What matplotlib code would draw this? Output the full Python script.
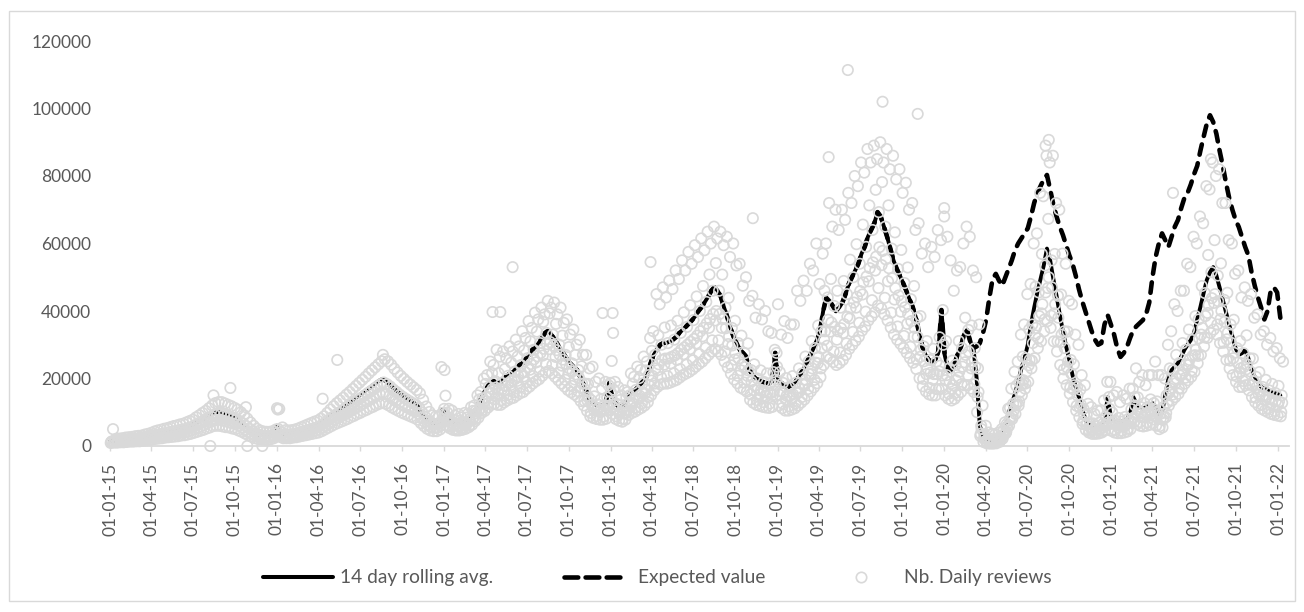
import matplotlib
matplotlib.use("Agg")
import matplotlib.pyplot as plt
from matplotlib.lines import Line2D
from matplotlib.patches import Rectangle
import pandas as pd

plt.rcParams['font.family'] = ['Lato', 'DejaVu Sans']

# ---------------- data (values in thousands of reviews) ----------------
start_date = "2015-01-01"          # weekly samples, 7 days apart

rolling_k = [
    # 2015
    1.5,1.6,1.7,1.8,1.9,2.0,2.1,2.2,2.3,2.4,2.6,2.8,3.0,3.3,3.5,3.7,3.9,4.1,4.3,4.5,4.7,4.9,5.1,5.4,5.7,6.0,
    6.5,7.0,7.5,8.0,8.6,9.2,9.8,10.0,10.0,9.7,9.4,9.1,8.7,8.3,7.7,7.0,6.2,5.4,4.6,3.9,3.5,3.3,3.2,3.2,3.4,3.8,
    # 2016
    6.0,4.2,3.6,3.5,3.6,3.8,4.0,4.3,4.6,4.9,5.2,5.5,5.8,6.2,6.8,7.5,8.3,9.1,9.8,10.4,11.0,11.7,12.3,13.0,13.7,14.4,
    15.1,15.8,16.5,17.2,17.9,18.6,19.3,19.8,19.3,18.5,17.6,16.8,16.0,15.3,14.6,14.0,13.4,12.8,12.0,10.5,9.0,7.8,7.0,6.8,6.7,7.5,
    # 2017
    11.0,8.6,7.5,6.8,6.5,6.5,6.8,7.3,8.0,9.0,10.5,12.0,14.0,16.0,17.5,18.8,19.2,18.8,18.7,19.8,20.8,21.5,22.0,23.0,24.0,24.6,
    26.0,27.0,28.5,29.5,30.5,32.0,33.5,34.2,33.0,31.5,30.0,28.4,27.0,25.5,24.5,23.5,22.5,20.5,18.5,16.0,13.6,12.8,12.3,12.0,12.0,12.5,
    # 2018
    18.7,14.5,12.5,11.8,11.5,12.5,15.0,16.0,16.6,17.5,18.5,19.5,21.0,24.5,27.0,28.5,30.0,30.5,30.5,31.0,31.5,32.3,33.5,34.4,35.3,36.3,
    37.3,38.5,40.0,41.2,42.7,44.2,46.0,47.1,46.0,44.2,41.0,38.2,35.0,32.3,30.5,28.4,27.5,26.4,22.5,21.0,20.0,19.5,19.0,18.7,18.5,19.0,
    # 2019
    27.6,19.0,18.7,17.5,17.5,18.0,18.7,20.0,21.5,23.0,25.0,27.0,29.0,31.0,34.0,40.0,44.0,43.0,41.5,40.0,41.0,42.5,45.0,48.0,50.0,52.0,
    54.0,57.0,59.0,62.0,64.0,66.0,69.3,68.0,65.0,62.0,58.5,55.0,52.5,50.5,48.3,46.0,43.5,41.2,38.0,33.5,29.5,27.0,25.5,25.0,25.0,28.0,
    # 2020
    40.3,27.0,23.0,22.0,24.0,27.0,29.0,33.0,34.4,31.0,29.0,20.0,6.0,3.0,2.0,1.8,1.8,2.0,2.5,4.0,6.5,9.8,12.5,15.5,19.0,23.0,
    26.0,30.0,36.0,41.0,45.5,49.5,53.5,58.5,55.0,49.5,44.5,39.0,34.0,29.5,25.5,21.0,17.5,14.5,11.0,8.0,6.5,5.8,5.8,6.0,6.5,7.5,
    # 2021
    14.5,8.6,7.5,7.2,7.2,7.5,8.0,9.5,14.5,12.5,11.5,11.0,11.5,12.0,12.7,11.5,9.5,10.0,15.0,20.0,22.5,23.5,24.6,26.5,28.5,30.0,
    31.4,33.5,37.5,41.2,45.3,49.2,51.5,53.0,50.5,47.0,43.3,39.5,36.0,32.5,29.0,27.0,27.5,28.5,26.0,22.5,20.5,19.0,17.5,17.0,
    16.5,16.0,15.7,15.5,15.0,
]

# expected value: starts at week 115 (Mar 2017); equals the rolling average until week 270 (Mar 2020)
expected_start_week = 115
expected_split_week = 270
expected_tail_k = [
    29.0,29.5,30.5,33.5,37.5,44.0,49.5,51.0,49.0,47.5,50.0,52.5,55.0,58.0,60.0,61.5,63.0,64.5,68.0,72.0,
    75.0,77.0,79.0,80.3,76.0,71.5,68.0,65.0,62.5,59.5,56.5,54.0,50.5,46.5,43.0,40.0,37.0,34.0,31.5,30.0,
    30.5,36.0,38.8,36.0,33.0,29.0,26.4,27.5,29.3,32.0,34.4,35.5,36.4,37.3,39.0,42.5,50.0,56.0,60.0,63.0,
    61.0,59.0,62.0,65.0,67.0,70.5,73.5,75.0,77.5,80.5,83.0,87.5,91.6,95.5,98.0,96.0,92.5,87.5,83.0,78.0,
    73.5,70.0,67.0,64.9,62.0,59.0,56.5,51.5,47.5,44.0,41.0,37.5,40.0,46.0,47.0,45.5,38.0,
]

# daily reviews, several readings per week across the cloud
daily_lo_k = [
    0.9,1.0,1.0,1.1,1.1,1.2,1.3,1.3,1.4,1.4,1.6,1.7,1.8,2.0,2.1,2.2,2.3,2.5,2.6,2.7,2.8,2.9,3.1,3.2,3.4,3.6,
    3.9,4.2,4.5,4.8,5.2,5.5,5.9,6.0,6.0,5.8,5.6,5.5,5.2,5.0,4.6,4.2,3.7,3.2,2.8,2.3,2.1,2.0,1.9,1.9,2.0,2.3,
    3.0,2.7,2.3,2.3,2.3,2.5,2.6,2.8,3.0,3.2,3.4,3.6,3.8,4.0,4.4,4.9,5.4,5.9,6.4,6.8,7.2,7.6,8.0,8.5,8.9,9.4,
    9.8,10.3,10.7,11.2,11.6,12.1,12.5,12.9,12.5,12.0,11.4,10.9,10.4,9.9,9.5,9.1,8.7,8.3,7.8,6.8,5.9,5.1,4.6,4.4,4.4,4.9,
    7.0,6.0,5.3,4.8,4.6,4.6,4.8,5.1,5.6,6.3,7.4,8.4,9.8,10.4,11.4,12.2,12.5,12.2,12.2,12.9,13.5,14.0,14.3,15.0,15.6,16.0,
    16.9,17.6,18.5,19.2,19.8,20.8,21.8,22.2,21.5,20.5,19.5,18.5,17.6,16.6,15.9,15.3,14.6,13.3,12.0,10.4,8.8,8.3,8.0,7.8,7.8,8.1,
    12.0,9.5,8.0,7.5,7.2,7.8,9.2,9.8,10.2,10.8,11.3,12.0,13.0,15.0,16.5,17.5,18.2,18.5,18.5,18.8,19.2,19.6,20.3,21.0,21.5,22.0,
    22.7,23.5,24.3,25.0,26.0,27.0,28.0,28.7,28.0,27.0,25.0,23.3,21.4,19.7,18.6,17.3,16.8,16.1,13.7,12.8,12.2,11.9,11.6,11.4,11.3,11.6,
    18.0,12.0,11.2,10.5,10.5,10.8,11.2,12.0,12.9,13.8,15.0,16.2,17.4,18.6,20.4,24.0,26.4,25.8,24.9,24.0,24.6,25.5,27.0,28.8,30.0,31.2,
    32.4,34.2,35.4,37.2,38.4,39.6,41.6,40.8,39.0,37.2,35.1,33.0,31.5,30.3,29.0,27.6,26.1,24.7,22.8,20.1,17.7,16.2,15.3,15.0,15.0,16.8,
    17,15,14,13.5,14,15,16,18,18,17,16,10,3,1.2,0.8,0.7,0.7,0.8,1.2,2.2,3.8,6,8,9.5,12,15,
    17,19,23,26,29,31,34,37,35,31,28,24,20,18,15.5,13,10.5,8.5,6.5,4.8,4,3.6,3.6,3.7,4,4.6,
    7,4.5,4,3.8,3.8,4,4.3,5,7,6.5,6,5.8,6,6.3,6.7,6,5,5.5,8.5,12,13.5,14.5,15.5,17,18.5,19.5,
    20.5,22,24.5,27,29.5,32,33.5,34.5,33,30.5,28,25.5,23,21,19,17.5,17.5,18,16.5,14.5,13,12,11,10.5,10,9.5,9.2,9,8.8,
]
daily_q_k = [
    1.2,1.2,1.3,1.4,1.4,1.5,1.7,1.7,1.8,1.9,2.0,2.2,2.4,2.5,2.7,2.9,3.0,3.2,3.4,3.5,3.7,3.8,4.0,4.2,4.4,4.7,
    5.0,5.4,5.8,6.2,6.7,7.1,7.6,7.7,7.8,7.5,7.3,7.0,6.7,6.5,6.0,5.5,4.8,4.2,3.6,3.0,2.7,2.5,2.5,2.5,2.6,2.9,
    4.0,3.3,2.8,2.8,2.9,3.0,3.2,3.4,3.7,3.9,4.1,4.4,4.6,4.9,5.4,6.0,6.6,7.2,7.8,8.3,8.8,9.3,9.8,10.4,10.9,11.5,
    12.0,12.6,13.2,13.7,14.3,14.9,15.4,15.8,15.4,14.8,14.0,13.4,12.8,12.2,11.7,11.2,10.7,10.2,9.6,8.4,7.2,6.2,5.6,5.4,5.4,6.0,
    7.8,7.5,5.8,5.9,5.0,5.7,5.3,6.4,6.1,7.8,8.1,10.4,10.6,13.4,12.7,15.7,13.9,15.7,13.6,16.6,15.1,18.1,16.0,19.3,17.4,20.6,
    18.9,22.6,20.7,24.8,22.1,26.8,24.3,28.7,24.0,26.4,21.8,23.8,19.6,21.4,17.8,19.7,16.3,17.2,13.4,13.4,9.8,10.7,8.9,10.1,8.7,10.5,
    13.2,11.6,8.8,9.4,8.0,9.9,10.3,12.7,11.4,13.9,12.6,15.5,14.5,19.4,18.5,22.5,20.4,24.1,20.7,24.5,21.5,25.5,22.8,27.2,24.1,28.7,
    25.4,30.4,27.2,32.5,29.1,35.0,31.3,37.2,31.3,35.0,28.0,30.2,23.9,25.6,20.8,22.4,18.8,20.8,15.3,16.6,13.6,15.4,13.0,14.8,12.6,15.1,
    19.7,15.2,12.6,13.8,11.8,14.2,12.6,15.8,14.5,18.2,16.9,21.3,19.6,24.5,23.0,31.5,29.7,33.9,28.0,31.5,27.7,33.5,30.4,37.8,33.8,41.0,
    36.5,44.9,39.8,48.8,43.2,52.0,46.8,53.6,43.9,48.8,39.5,43.4,35.4,39.8,32.6,36.2,29.4,32.4,25.6,26.4,19.9,21.3,17.2,19.7,16.9,22.1,
    20.9,19.5,15.5,16.9,15.7,20.3,18.3,24.8,21.0,23.0,18.3,14.5,3.6,2.2,1.1,1.3,0.9,1.5,1.5,3.1,4.3,7.7,8.8,12.1,13.2,18.4,
    18.5,23.9,25.3,32.8,31.9,39.3,37.5,46.8,38.6,39.3,31.0,30.8,22.7,23.3,17.3,16.8,11.9,11.4,7.3,6.3,4.5,4.6,4.0,4.8,4.5,6.0,
    8.2,6.6,4.7,5.5,4.5,5.8,5.1,7.3,8.5,9.6,7.1,8.5,7.1,9.2,7.9,8.9,5.9,7.8,9.8,15.8,15.2,18.6,17.1,21.1,20.2,24.0,
    22.4,26.9,26.7,33.0,32.2,39.4,36.6,42.4,36.0,37.6,30.6,31.6,25.3,26.0,20.7,21.6,19.3,22.7,18.2,18.0,14.3,15.2,12.2,13.5,
    11.2,12.6,10.4,12.2,10.0,
]
daily_mid_k = [
    1.4,1.5,1.6,1.7,1.8,1.9,2.0,2.1,2.2,2.3,2.5,2.7,2.9,3.1,3.3,3.5,3.7,3.9,4.1,4.3,4.5,4.7,4.8,5.1,5.4,5.7,
    6.2,6.7,7.1,7.6,8.2,8.7,9.3,9.5,9.5,9.2,8.9,8.6,8.3,7.9,7.3,6.7,5.9,5.1,4.4,3.7,3.3,3.1,3.0,3.0,3.2,3.6,
    5.0,4.0,3.4,3.3,3.4,3.6,3.8,4.1,4.4,4.7,4.9,5.2,5.5,5.9,6.5,7.1,7.9,8.6,9.3,9.9,10.5,11.1,11.7,12.4,13.0,13.7,
    14.3,15.0,15.7,16.3,17.0,17.7,18.3,18.8,18.3,17.6,16.7,16.0,15.2,14.5,13.9,13.3,12.7,12.2,11.4,10.0,8.6,7.4,6.7,6.5,6.4,7.1,
    9.5,8.0,7.0,6.3,6.0,6.0,6.3,6.8,7.4,8.3,9.7,11.0,12.6,14.4,15.8,16.9,17.3,16.9,16.8,17.8,18.7,19.4,19.8,20.7,21.6,22.1,
    23.4,24.3,25.7,26.6,27.5,28.8,30.2,30.8,29.7,28.4,27.0,25.6,24.3,23.0,22.1,21.2,20.3,18.5,16.7,14.4,12.2,11.5,11.1,10.8,10.8,11.3,
    16.0,12.3,10.6,10.0,9.8,10.6,12.8,13.6,14.1,14.9,15.7,16.6,17.9,20.8,23.0,24.2,25.5,25.9,25.9,26.4,26.8,27.5,28.5,29.2,30.0,30.9,
    31.7,32.7,34.0,35.0,36.3,37.6,39.1,40.0,39.1,37.6,34.9,32.5,29.8,27.5,25.9,24.1,23.4,22.4,19.1,17.9,17.0,16.6,16.2,15.9,15.7,16.2,
    23.5,16.2,15.9,14.9,14.9,15.3,15.9,17.0,18.3,19.6,21.3,23.0,24.7,26.4,28.9,34.0,37.4,36.6,35.3,34.0,34.9,36.1,38.3,40.8,42.5,44.2,
    45.9,48.5,50.2,52.7,54.4,56.1,58.9,57.8,55.3,52.7,49.7,46.8,44.6,42.9,41.1,39.1,37.0,35.0,32.3,28.5,25.1,23.0,21.7,21.3,21.3,23.8,
    30,21,19,18,19.5,22,23.5,27,28,25,23.5,16,5,2.5,1.7,1.5,1.5,1.7,2.1,3.4,5.5,8.3,10.5,13,16,19.5,
    22,25.5,30.5,35,38.5,42,45.5,50,47,42,38,33,29,25,21.5,18,15,12.3,9.3,6.8,5.5,4.9,4.9,5.1,5.5,6.4,
    11,7.3,6.4,6.1,6.1,6.4,6.8,8.1,12,10.6,9.8,9.4,9.8,10.2,10.8,9.8,8.1,8.5,12.8,17,19.1,20,20.9,22.5,24.2,25.5,
    26.7,28.5,31.9,35,38.5,41.8,43.8,45,42.9,40,36.8,33.6,30.6,27.6,24.7,23,23.4,24.2,22.1,19.1,17.4,16.2,14.9,14.5,14,13.6,13.3,13.2,12.8,
]
# readings just around / above the average, from week 104 (end of 2016) on
daily_up_start_week = 104
daily_up_k = [
    11.0,9.9,7.5,7.8,6.5,7.5,6.8,8.4,8.0,10.4,10.5,13.8,14.0,18.4,17.5,21.6,19.2,21.6,18.7,22.8,20.8,24.7,22.0,26.5,24.0,28.3,
    26.0,31.0,28.5,33.9,30.5,36.8,33.5,39.3,33.0,36.2,30.0,32.7,27.0,29.3,24.5,27.0,22.5,23.6,18.5,18.4,13.6,14.7,12.3,13.8,12.0,14.4,
    18.7,16.7,12.5,13.6,11.5,14.4,15.0,18.4,16.6,20.1,18.5,22.4,21.0,28.2,27.0,32.8,30.0,35.1,30.5,35.7,31.5,37.1,33.5,39.6,35.3,41.7,
    37.3,44.3,40.0,47.4,42.7,50.8,46.0,54.2,46.0,50.8,41.0,43.9,35.0,37.1,30.5,32.7,27.5,30.4,22.5,24.2,20.0,22.4,19.0,21.5,18.5,21.9,
    27.6,21.9,18.7,20.1,17.5,20.7,18.7,23.0,21.5,26.5,25.0,31.1,29.0,35.7,34.0,46.0,44.0,49.5,41.5,46.0,41.0,48.9,45.0,55.2,50.0,59.8,
    54.0,65.6,59.0,71.3,64.0,75.9,69.3,78.2,65.0,71.3,58.5,63.3,52.5,58.1,48.3,52.9,43.5,47.4,38.0,38.5,29.5,31.1,25.5,28.8,25.0,32.2,
    40.3,31.1,23.0,25.3,24.0,31.1,29.0,38.0,34.4,35.7,29.0,23.0,6.0,3.5,2.0,2.1,1.8,2.3,2.5,4.6,6.5,11.3,12.5,17.8,19.0,26.5,
    26.0,34.5,36.0,47.2,45.5,56.9,53.5,67.3,55.0,56.9,44.5,44.9,34.0,33.9,25.5,24.2,17.5,16.7,11.0,9.2,6.5,6.7,5.8,6.9,6.5,8.6,
    14.5,9.9,7.5,8.3,7.2,8.6,8.0,10.9,14.5,14.4,11.5,12.7,11.5,13.8,12.7,13.2,9.5,11.5,15.0,23.0,22.5,27.0,24.6,30.5,28.5,34.5,
    31.4,38.5,37.5,47.4,45.3,56.6,51.5,61.0,50.5,54.1,43.3,45.4,36.0,37.4,29.0,31.1,27.5,32.8,26.0,25.9,20.5,21.9,17.5,19.6,
    16.5,18.4,15.7,17.8,15.0,
]
daily_hi_k = [
    5.0,2.1,2.2,2.3,2.5,2.6,2.7,2.9,3.0,3.1,3.4,3.6,3.9,4.3,4.6,4.8,5.1,5.3,5.6,5.9,6.1,6.4,6.6,7.0,7.4,7.8,
    8.5,9.1,9.8,10.4,11.2,12.0,12.7,13.0,13.0,12.6,12.2,11.8,11.3,10.8,10.0,9.1,8.1,7.0,6.0,5.1,4.6,4.3,4.2,4.2,4.4,4.9,
    11.0,5.5,4.7,4.6,4.7,4.9,5.2,5.6,6.0,6.4,6.8,7.2,7.5,8.1,8.8,9.8,10.8,11.8,12.7,13.5,14.3,15.2,16.0,16.9,17.8,18.7,
    19.6,20.5,21.5,22.4,23.3,24.2,25.1,25.7,25.1,24.1,22.9,21.8,20.8,19.9,19.0,18.2,17.4,16.6,15.6,13.7,11.7,10.1,9.1,8.8,8.7,9.8,
    14.9,11.0,10.5,9.0,9.5,8.5,9.8,9.5,11.5,12.0,15.0,16.0,20.0,21.0,25.0,24.0,28.5,26.5,28.0,26.0,29.5,28.0,31.5,29.5,34.0,32.0,
    37.0,35.0,39.5,37.5,41.0,39.0,43.0,41.0,42.5,39.0,41.0,36.5,37.5,33.0,34.5,30.0,31.5,27.0,27.0,23.0,23.5,19.0,20.0,17.0,19.0,18.0,
    25.2,19.0,17.5,15.0,16.5,16.0,21.5,20.5,23.5,22.5,26.5,25.0,32.0,34.0,45.0,42.0,47.0,44.0,49.0,46.5,52.0,49.5,55.0,52.0,57.5,54.0,
    59.5,56.0,61.5,58.0,63.5,60.0,65.0,61.5,63.5,59.5,62.0,56.0,60.0,53.5,54.0,47.5,50.0,43.0,44.5,38.0,42.0,37.5,40.0,34.0,33.5,28.5,
    42,33,37,32,36,36,46,43,49,46,54,52,60,48,57,60,72,65,70,64,70,67,75,72,80,77,
    84,81,88,84,89,85,90,84,88,82,86,79,82,75,78,70,72,64,66,57,60,53,59,56,64,61,
    68,62,55,46,52,53,60,65,62,52,50,36,12,6,4,3.5,3.5,4,5,7,11,17,22,25,33,36,
    45,48,60,63,75,74,86,84,86,72,70,57,54,43,42,33,30,21,18,12.5,11.5,9.5,10.5,10.5,13.5,19,
    19,15,16,13,15,14,17,17,23,19,21,18,21,21,25,21,21,20,30,34,42,40,46,46,54,53,
    62,60,68,66,77,76,84,80,82,72,72,61,60,51,52,44,47,43,45,38,39,33,34,30,32,28,29,26,25,
]
outlier_dates = ["2015-08-08","2015-10-28","2015-11-30","2015-08-15","2015-09-21","2015-10-25",
                 "2016-01-01","2016-01-03","2016-04-10","2016-05-12","2016-08-20","2016-12-26",
                 "2017-01-02","2017-04-17","2017-05-04","2017-05-31","2017-12-14","2018-01-05",
                 "2018-01-06","2018-03-29","2018-11-08","2019-04-23","2019-06-04","2019-08-19",
                 "2019-11-04","2020-01-01","2020-08-17","2020-08-10","2021-05-16","2021-08-07"]
outlier_k = [0, 0, 0, 15.0, 17.2, 11.5,
             11.2, 10.8, 14.0, 25.5, 27.0, 23.4,
             22.5, 39.7, 39.7, 53.0, 39.4, 39.4,
             33.5, 54.5, 67.5, 85.6, 111.4, 102.0,
             98.4, 70.5, 90.7, 89.0, 75.0, 85.0]

quarter_starts = pd.date_range("2015-01-01", "2022-01-01", freq="QS")
tick_labels = [d.strftime("%d-%m-%y") for d in quarter_starts]
y_ticks = [0, 20000, 40000, 60000, 80000, 100000, 120000]
legend_labels = ["14 day rolling avg.", "Expected value", "Nb. Daily reviews"]

# ---------------- build series ----------------
K = 1000.0
weeks = pd.date_range(start_date, periods=len(rolling_k), freq="7D")
rolling = [v * K for v in rolling_k]
expected_k = rolling_k[expected_start_week:expected_split_week] + expected_tail_k
exp_dates = pd.date_range(weeks[expected_start_week], periods=len(expected_k), freq="7D")
expected = [v * K for v in expected_k]

def week_dates(n, offset, first=start_date):
    return pd.date_range(first, periods=n, freq="7D") + pd.Timedelta(days=offset)

sc_dates = (list(week_dates(len(daily_lo_k), 1)) + list(week_dates(len(daily_q_k), 2))
            + list(week_dates(len(daily_up_k), 3, weeks[daily_up_start_week]))
            + list(week_dates(len(daily_mid_k), 4)) + list(week_dates(len(daily_hi_k), 6))
            + list(pd.to_datetime(outlier_dates)))
sc_vals = [v * K for v in daily_lo_k + daily_q_k + daily_up_k + daily_mid_k + daily_hi_k + outlier_k]

# ---------------- figure ----------------
W, H = 1304, 612
fig = plt.figure(figsize=(W / 100, H / 100), dpi=100)
fig.patch.set_facecolor("white")

def fx(px): return px / W
def fy(py): return 1 - py / H

ax = fig.add_axes([fx(108), fy(446), fx(1289) - fx(108), fy(41) - fy(446)])
ax.set_facecolor("none")

GREY_TXT = "#595959"
GREY_LN = "#D9D9D9"

ax.plot(weeks, rolling, color="black", lw=2.8, solid_capstyle="round",
        solid_joinstyle="round", zorder=2)
ax.plot(exp_dates, expected, color="black", lw=3.3, dashes=(2.3, 1.9),
        dash_capstyle="round", dash_joinstyle="round", zorder=3)
ax.scatter(sc_dates, sc_vals, s=56, facecolors="none", edgecolors=GREY_LN,
           linewidths=1.2, zorder=4, clip_on=False)

ax.set_ylim(0, 120000)
ax.set_xlim(pd.Timestamp("2014-12-27"), pd.Timestamp("2022-01-25"))

ax.set_yticks(y_ticks)
ax.set_yticklabels([str(v) for v in y_ticks])
ax.set_xticks(quarter_starts)
ax.set_xticklabels(tick_labels, rotation=90)

ax.tick_params(axis="y", length=0, pad=12, labelsize=12.5, labelcolor=GREY_TXT)
ax.tick_params(axis="x", direction="out", length=3.8, width=1.0, color=GREY_LN,
               pad=8, labelsize=12.5, labelcolor=GREY_TXT)
for s in ["top", "right", "left"]:
    ax.spines[s].set_visible(False)
ax.spines["bottom"].set_color(GREY_LN)
ax.spines["bottom"].set_linewidth(1.3)
ax.spines["bottom"].set_zorder(1)

# ---------------- legend (drawn manually, Excel style) ----------------
yl = fy(577)
LEG_FS = 13.8
fig.add_artist(Line2D([fx(263), fx(333)], [yl, yl], transform=fig.transFigure,
                      color="black", lw=2.9, solid_capstyle="round"))
fig.text(fx(340), yl, legend_labels[0], ha="left", va="center", fontsize=LEG_FS, color=GREY_TXT)
fig.add_artist(Line2D([fx(564), fx(620)], [yl, yl], transform=fig.transFigure,
                      color="black", lw=3.3, dashes=(3.0, 1.6), dash_capstyle="round"))
fig.text(fx(638), yl, legend_labels[1], ha="left", va="center", fontsize=LEG_FS, color=GREY_TXT)
fig.add_artist(Line2D([fx(861)], [yl], transform=fig.transFigure, marker="o",
                      markersize=7.5, markerfacecolor="none", markeredgecolor=GREY_LN,
                      markeredgewidth=1.2, linestyle="none"))
fig.text(fx(904), yl, legend_labels[2], ha="left", va="center", fontsize=LEG_FS, color=GREY_TXT)

# outer chart border
fig.add_artist(Rectangle((fx(9), fy(601)), fx(1295) - fx(9), fy(11) - fy(601),
                         transform=fig.transFigure, fill=False, ec=GREY_LN, lw=1.0))

fig.savefig("out.png", dpi=100, facecolor="white")
